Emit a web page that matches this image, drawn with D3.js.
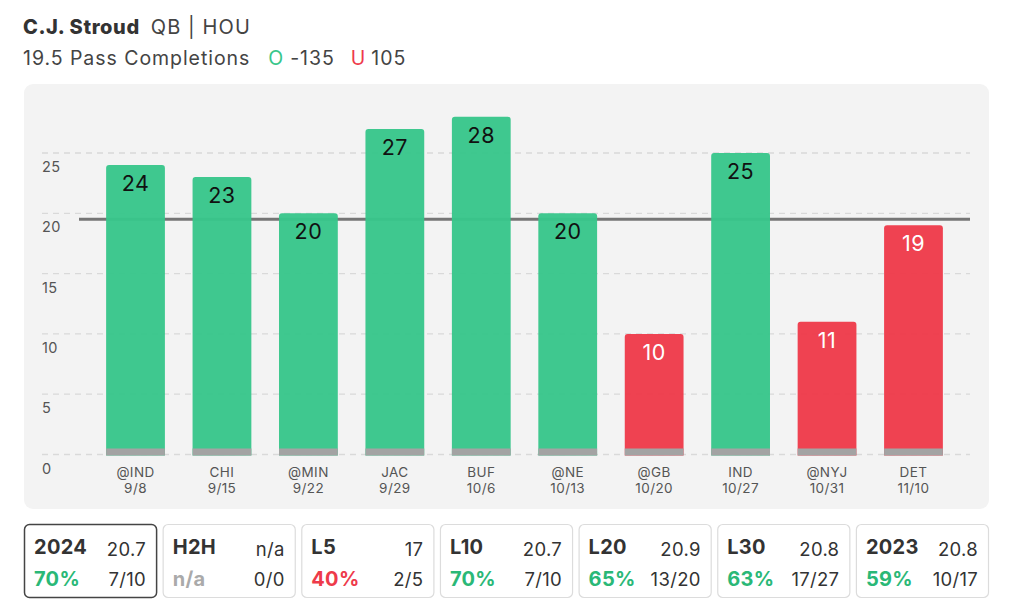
<!DOCTYPE html>
<html><head><meta charset="utf-8">
<script src="https://cdn.jsdelivr.net/npm/d3@7"></script>
<style>
html,body{margin:0;padding:0;background:#fff;}
svg{display:block;font-family:Inter,"Noto Sans",sans-serif;}
</style></head>
<body><svg id="c" width="1024" height="611"></svg>
<script>
const teams = ["@IND","CHI","@MIN","JAC","BUF","@NE","@GB","IND","@NYJ","DET"];
const dates = ["9/8","9/15","9/22","9/29","10/6","10/13","10/20","10/27","10/31","11/10"];
const values = [24,23,20,27,28,20,10,25,11,19];
const line = 19.5;
const yTicks = [0,5,10,15,20,25];
const boxLabels = ["2024","H2H","L5","L10","L20","L30","2023"];
const boxAvgs = ["20.7","n/a","17","20.7","20.9","20.8","20.8"];
const boxPcts = ["70%","n/a","40%","70%","65%","63%","59%"];
const boxRecs = ["7/10","0/0","2/5","7/10","13/20","17/27","10/17"];

const GREEN="#37c68a", RED="#ee3a4a";
const svg = d3.select("#c");

// header
const h1 = svg.append("text").attr("x",23).attr("y",34).attr("font-size",20).attr("fill","#333").attr("letter-spacing",0.6);
h1.append("tspan").attr("font-weight",800).text("C.J. Stroud");
h1.append("tspan").attr("dx",11).attr("fill","#444").attr("letter-spacing",1.1).text("QB | HOU");
const h2 = svg.append("text").attr("x",23).attr("y",65).attr("font-size",19.5).attr("fill","#444").attr("letter-spacing",0.95);
h2.append("tspan").text("19.5 Pass Completions");
h2.append("tspan").attr("dx",18).attr("fill",GREEN).text("O");
h2.append("tspan").attr("dx",6).text("-135");
h2.append("tspan").attr("dx",16).attr("fill",RED).text("U");
h2.append("tspan").attr("dx",5).text("105");

// panel
svg.append("rect").attr("x",24).attr("y",84).attr("width",965).attr("height",425).attr("rx",9).attr("fill","#f3f3f3");

const x = d3.scaleBand().domain(d3.range(values.length)).range([92.3,956.7]).paddingInner(0.32).paddingOuter(0.16);
const y = d3.scaleLinear().domain([0,25]).range([454.5,153]);

// gridlines
svg.append("g").selectAll("line").data(yTicks).join("line")
  .attr("x1",42).attr("x2",970).attr("y1",d=>y(d)).attr("y2",d=>y(d))
  .attr("stroke","#d9d9d9").attr("stroke-width",1.3).attr("stroke-dasharray","6,5");
svg.append("g").selectAll("text").data(yTicks).join("text")
  .attr("x",42).attr("y",d=>y(d)+19).attr("font-size",14.5).attr("letter-spacing",0.4).attr("fill","#555").text(d=>d);

// line
svg.append("line").attr("x1",79).attr("x2",970).attr("y1",y(line)).attr("y2",y(line))
  .attr("stroke","#757575").attr("stroke-width",3);

// bars
const bars = svg.append("g").selectAll("g").data(values).join("g");
bars.append("path").attr("fill",d=>d>line?GREEN:RED).attr("fill-opacity",0.96)
  .attr("d",(d,i)=>{
    const x0=x(i), w=x.bandwidth(), t=y(d), b=y(0)+1, r=3;
    return `M${x0},${b}V${t+r}Q${x0},${t} ${x0+r},${t}H${x0+w-r}Q${x0+w},${t} ${x0+w},${t+r}V${b}Z`;
  });
bars.append("rect").attr("x",(d,i)=>x(i)).attr("width",x.bandwidth())
  .attr("y",y(0)-6).attr("height",7).attr("fill","#a3a3a3");
bars.append("text").attr("x",(d,i)=>x(i)+x.bandwidth()/2).attr("y",d=>y(d)+26)
  .attr("text-anchor","middle").attr("font-size",21.5).attr("letter-spacing",0.5)
  .attr("fill",d=>d>line?"#111":"#fff").text(d=>d);

// x labels
const xl = svg.append("g").selectAll("g").data(teams).join("g");
xl.append("text").attr("x",(d,i)=>x(i)+x.bandwidth()/2).attr("y",477)
  .attr("text-anchor","middle").attr("font-size",13.5).attr("letter-spacing",0.4).attr("fill","#555").text(d=>d);
xl.append("text").attr("x",(d,i)=>x(i)+x.bandwidth()/2).attr("y",492.5)
  .attr("text-anchor","middle").attr("font-size",13.5).attr("letter-spacing",0.4).attr("fill","#555").text((d,i)=>dates[i]);

// boxes
const bx = d3.scaleBand().domain(d3.range(boxLabels.length)).range([24,989]).paddingInner(0.04).paddingOuter(0);
const boxes = svg.append("g").selectAll("g").data(boxLabels).join("g")
  .attr("transform",(d,i)=>`translate(${bx(i)},524)`);
boxes.append("rect").attr("x",0.5).attr("y",0.5).attr("width",bx.bandwidth()-1).attr("height",73)
  .attr("rx",5).attr("fill","#fff")
  .attr("stroke",(d,i)=>i===0?"#444":"#dcdcdc").attr("stroke-width",(d,i)=>i===0?1.5:1.2);
boxes.append("text").attr("x",10).attr("y",30).attr("font-size",20).attr("font-weight",700).attr("letter-spacing",0.3)
  .attr("fill","#333").text(d=>d);
boxes.append("text").attr("x",bx.bandwidth()-11).attr("y",32).attr("text-anchor","end")
  .attr("font-size",18.5).attr("letter-spacing",0.3).attr("fill","#333").text((d,i)=>boxAvgs[i]);
boxes.append("text").attr("x",10).attr("y",62).attr("font-size",20).attr("font-weight",700).attr("letter-spacing",0.3)
  .attr("fill",(d,i)=>boxPcts[i]==="n/a"?"#aaa":(parseFloat(boxPcts[i])>=50?"#2ab877":RED))
  .text((d,i)=>boxPcts[i]);
boxes.append("text").attr("x",bx.bandwidth()-11).attr("y",62).attr("text-anchor","end")
  .attr("font-size",18.5).attr("letter-spacing",0.3).attr("fill","#333").text((d,i)=>boxRecs[i]);
</script></body></html>
